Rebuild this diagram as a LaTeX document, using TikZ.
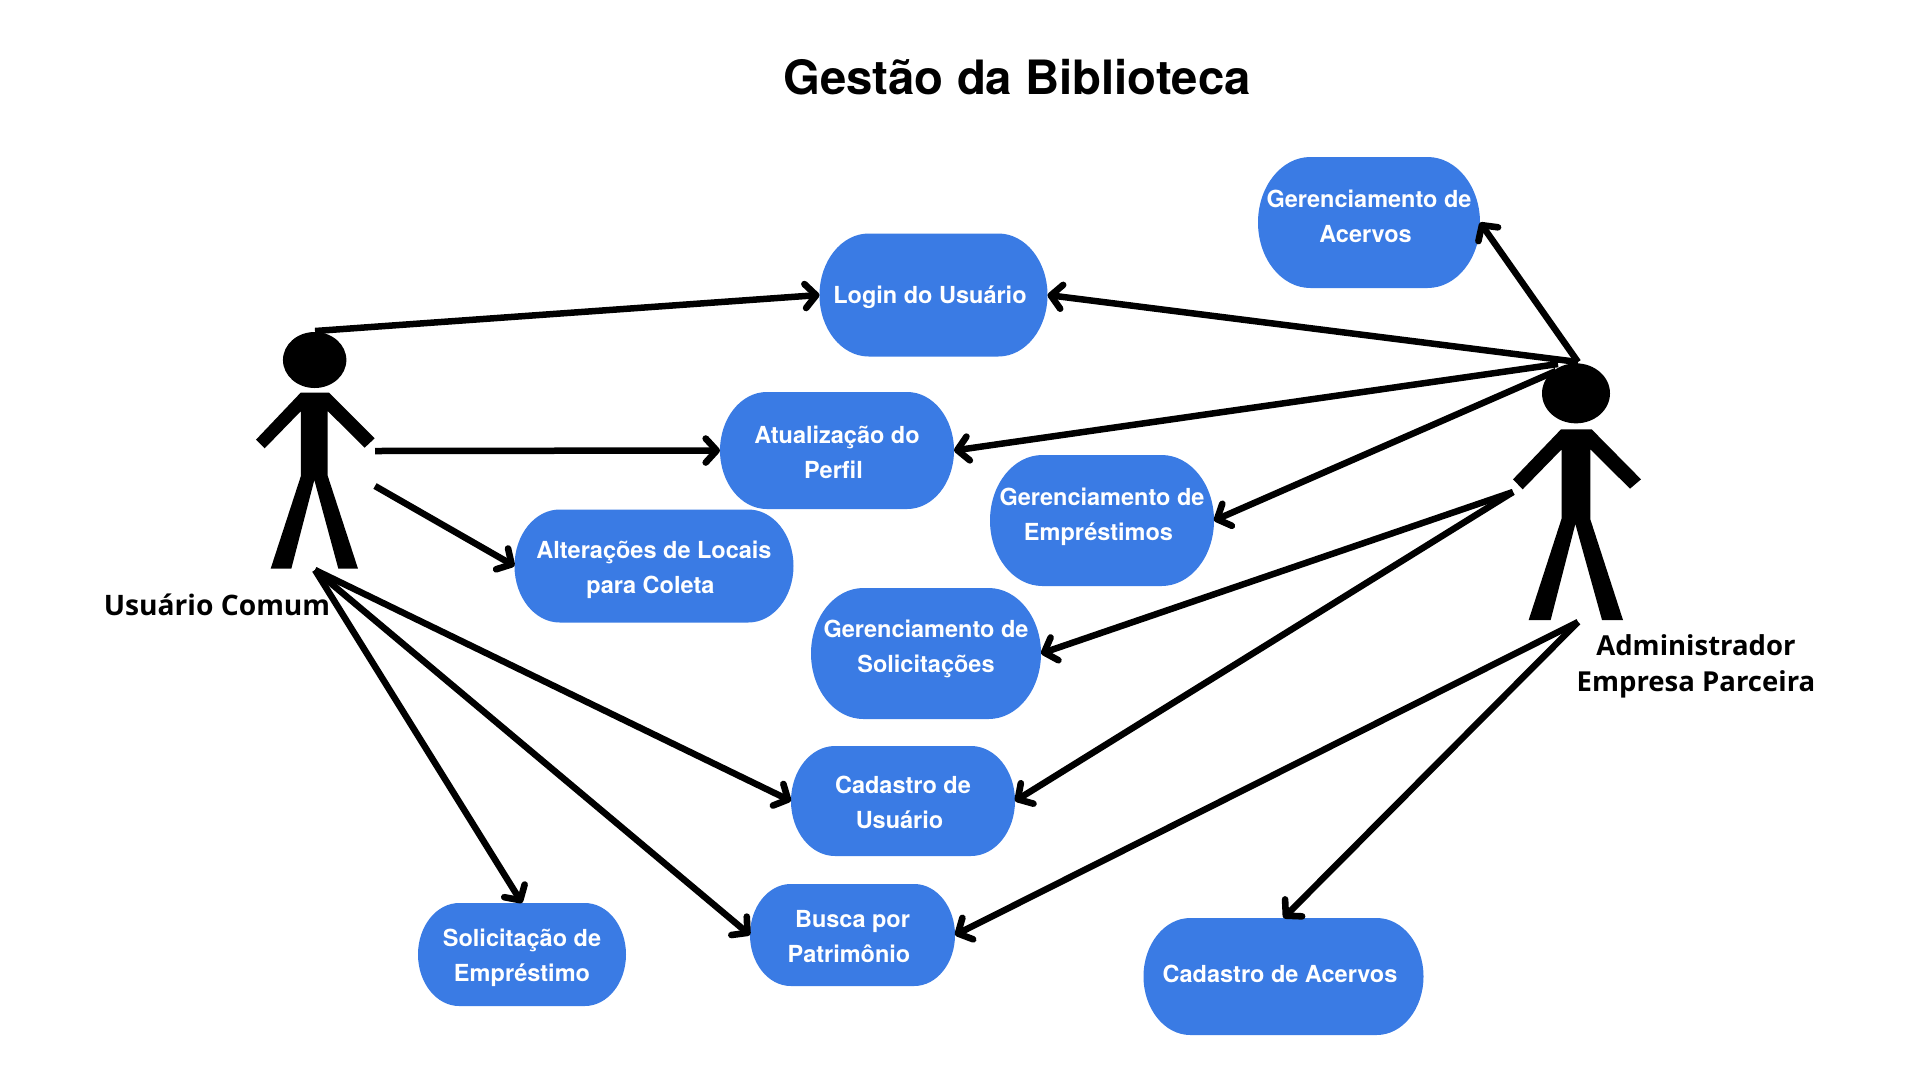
\documentclass[tikz,border=0pt]{standalone}
\usepackage{fontspec}
\setmainfont{TeX Gyre Heros}
\newfontfamily\actorfont{Open Sans}
\usetikzlibrary{arrows.meta}
\definecolor{ucblue}{HTML}{3A7BE4}
\tikzset{
  ucnode/.style={rectangle,inner sep=0pt,outer sep=0pt,text=white,font=\fontsize{23.5}{35}\selectfont\bfseries},
  flow/.style={line width=6.5pt,black,-{Straight Barb[length=11pt,width=24pt,line width=6.6pt,round]}},
  actorshape/.style={fill=black,draw=none},
  actorlabel/.style={inner sep=0pt,text=black,font=\fontsize{27.5}{36}\selectfont\actorfont\bfseries,align=center}
}
\newcommand{\lft}[1]{#1\hspace*{7pt}}
\newcommand{\ucase}[7]{%
  \pgfmathsetmacro{\rxv}{0.4*#5}%
  \pgfmathsetmacro{\ryv}{0.5*#5}%
  \fill[ucblue] ({#2-0.5*#4+\rxv},{#3-\ryv}) -- ({#2+0.5*#4-\rxv},{#3-\ryv})
    arc[start angle=90,end angle=-90,x radius=\rxv pt,y radius=\ryv pt]
    -- ({#2-0.5*#4+\rxv},{#3+\ryv})
    arc[start angle=-90,end angle=-270,x radius=\rxv pt,y radius=\ryv pt] -- cycle;
  \node[ucnode,minimum width=#4pt,minimum height=#5pt] (#1) at (#2,#3)
    {\raisebox{#6pt}[0pt][0pt]{\begin{tabular}{@{}c@{}}#7\end{tabular}}};
}
\begin{document}
\begin{tikzpicture}[x=1pt,y=-1pt]
\useasboundingbox (0,0) rectangle (1920,1080);
\fill[white] (0,0) rectangle (1920,1080);

\node[inner sep=0pt,font=\fontsize{47.3}{50}\selectfont\bfseries] (title) at (1017,77) {Gestão da Biblioteca};

\ucase{login}{933.5}{295}{228}{123}{-7.5}{\lft{Login do Usuário}}
\ucase{acervos}{1369}{222.5}{222}{131}{-1.5}{Gerenciamento de\\\lft{Acervos}}
\ucase{perfil}{837}{450.5}{234}{117}{-9.5}{Atualização do\\\lft{Perfil}}
\ucase{emprest}{1102}{520.5}{224}{131}{-2.2}{Gerenciamento de\\\lft{Empréstimos}}
\ucase{solic}{926}{653.5}{230}{131}{-0.8}{Gerenciamento de\\Solicitações}
\ucase{cadu}{903}{801}{224}{110}{-8.8}{Cadastro de\\\lft{Usuário}}
\ucase{locais}{654}{566}{279}{113}{-8.8}{Alterações de Locais\\\lft{para Coleta}}
\ucase{busca}{852.5}{935}{205}{102}{-8.8}{Busca por\\\lft{Patrimônio}}
\ucase{solemp}{522}{954.5}{208}{103}{-8.4}{Solicitação de\\Empréstimo}
\ucase{cada}{1283.5}{976.5}{280}{117}{-5.7}{\lft{Cadastro de Acervos}}

% left actor
\begin{scope}[shift={(60,300)},x=0.33333pt,y=-0.33333pt]
  \fill[actorshape] (764,180) ellipse [x radius=31.7pt,y radius=28pt];
  \fill[actorshape] (722,278)--(807,278)--(944,415)--(914,443)--(803,333)--(803,527)--(894,806)--(835,806)--(763,540)--(694,806)--(632,806)--(723,527)--(723,333)--(614,445)--(588,419)--cycle;
\end{scope}
% right actor
\begin{scope}[shift={(1480,340)},x=0.33333pt,y=-0.33333pt]
  \fill[actorshape] (288,160) ellipse [x radius=34pt,y radius=30pt];
  \fill[actorshape] (243,268)--(335,268)--(483,418)--(450,446)--(331,328)--(331,538)--(429,840)--(366,840)--(286,552)--(212,840)--(146,840)--(245,535)--(245,328)--(128,448)--(99,418)--cycle;
\end{scope}

\node[actorlabel,anchor=base,font=\fontsize{28.2}{36}\selectfont\actorfont\bfseries] (usuario) at (217,615) {Usuário Comum};
\node[actorlabel] (admin) at (1696,666) {Administrador\\Empresa Parceira};

\coordinate (ua) at (315,331);
\coordinate (ub) at (375,451);
\coordinate (uc) at (375,486);
\coordinate (ud) at (315,570);
\coordinate (aa) at (1578,362);
\coordinate (ab) at (1558,364);
\coordinate (ac) at (1556,371);
\coordinate (ad) at (1513,492);
\coordinate (ae) at (1578,622);

\draw[flow] (ua) -- (login.west);
\draw[flow] (ub) -- (perfil.west);
\draw[flow] (uc) -- (locais.west);
\draw[flow] (ud) -- (cadu.west);
\draw[flow] (ud) -- (busca.west);
\draw[flow] (ud) -- (solemp.north);
\draw[flow] (aa) -- (acervos.east);
\draw[flow] (aa) -- (login.east);
\draw[flow] (ab) -- (perfil.east);
\draw[flow] (ac) -- (emprest.east);
\draw[flow] (ad) -- (solic.east);
\draw[flow] (ad) -- (cadu.east);
\draw[flow] (ae) -- (busca.east);
\draw[flow] (ae) -- (cada.north);
\end{tikzpicture}
\end{document}
